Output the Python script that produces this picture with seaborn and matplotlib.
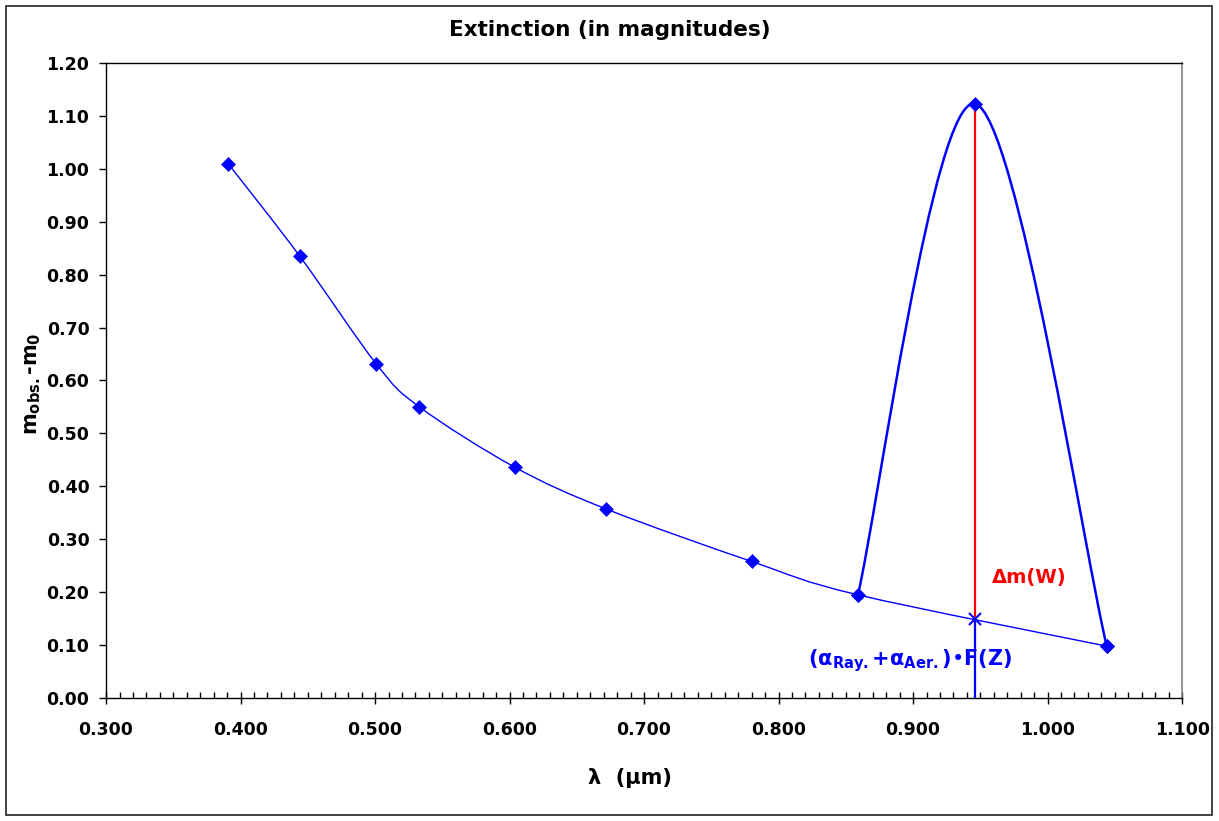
import numpy as np
import matplotlib
matplotlib.use('Agg')
import matplotlib.pyplot as plt
import matplotlib.ticker as mticker
from matplotlib.path import Path
from matplotlib.patches import PathPatch, Rectangle
import seaborn as sns
import pandas as pd

# measured extinction at each filter (µm, magnitudes)
wavelength = [0.391, 0.444, 0.501, 0.533, 0.604, 0.672, 0.780, 0.859, 1.044]
extinction = [1.009, 0.835, 0.631, 0.550, 0.436, 0.357, 0.258, 0.195, 0.098]

# water band filter curve
band_x = [0.859, 0.946, 1.044]
band_y = [0.195, 1.123, 0.098]

# water filter position, continuum level and observed value
w_x = 0.946
w_continuum = 0.149
w_peak = 1.123

x_ticks = [0.3, 0.4, 0.5, 0.6, 0.7, 0.8, 0.9, 1.0, 1.1]
y_ticks = [0.0, 0.1, 0.2, 0.3, 0.4, 0.5, 0.6, 0.7, 0.8, 0.9, 1.0, 1.1, 1.2]

BLUE = '#0000FF'
RED = '#FF0000'

sns.set_theme(style='white')
plt.rcParams['font.family'] = ['DejaVu Sans']
plt.rcParams['font.weight'] = 'bold'
plt.rcParams['mathtext.default'] = 'regular'
plt.rcParams['text.color'] = 'black'
plt.rcParams['xtick.color'] = 'black'
plt.rcParams['ytick.color'] = 'black'
plt.rcParams['axes.labelcolor'] = 'black'


def smooth_path(xs, ys):
    # excel-like smoothed line: catmull-rom segments as cubic beziers
    pts = np.column_stack([xs, ys])
    n = len(pts)
    verts = [pts[0]]
    codes = [Path.MOVETO]
    for i in range(n - 1):
        p0 = pts[max(i - 1, 0)]
        p1 = pts[i]
        p2 = pts[i + 1]
        p3 = pts[min(i + 2, n - 1)]
        verts += [p1 + (p2 - p0) / 6, p2 - (p3 - p1) / 6, p2]
        codes += [Path.CURVE4] * 3
    return Path(verts, codes)


fig = plt.figure(figsize=(12.19, 8.21), dpi=100)
ax = fig.add_axes([0.0870, 0.1498, 0.8827, 0.7735])

# smoothed curves
ax.add_patch(PathPatch(smooth_path(wavelength, extinction), facecolor='none',
                       edgecolor=BLUE, lw=1.0, zorder=2))
ax.add_patch(PathPatch(smooth_path(band_x, band_y), facecolor='none',
                       edgecolor=BLUE, lw=1.8, zorder=2))

# vertical lines at the water filter
ax.vlines(w_x, w_continuum, w_peak, color=RED, lw=1.6, zorder=3)
ax.vlines(w_x, 0, w_continuum, color=BLUE, lw=1.6, zorder=3)

# markers
pts = pd.DataFrame({'x': wavelength + band_x, 'y': extinction + band_y})
sns.scatterplot(data=pts, x='x', y='y', marker='D', s=50, color=BLUE,
                edgecolor=BLUE, linewidth=0.5, ax=ax, zorder=4)
ax.plot([w_x], [w_continuum], marker='x', ms=9, mew=1.5, color=BLUE, zorder=4)

# annotations
ax.text(0.9587, 0.227, 'Δm(W)', color=RED, fontsize=14, fontweight='bold',
        ha='left', va='center')
ax.text(0.822, 0.071, r'($\alpha_{Ray.}$+$\alpha_{Aer.}$)•F(Z)', color=BLUE,
        fontsize=15, fontweight='bold', ha='left', va='center')

# axes
ax.set_xlim(0.3, 1.1)
ax.set_ylim(0.0, 1.2)
ax.set_xticks(x_ticks)
ax.set_yticks(y_ticks)
ax.xaxis.set_minor_locator(mticker.MultipleLocator(0.01))
ax.xaxis.set_major_formatter(mticker.FormatStrFormatter('%.3f'))
ax.yaxis.set_major_formatter(mticker.FormatStrFormatter('%.2f'))
ax.tick_params(axis='x', which='major', direction='inout', length=9, width=1,
               color='black', labelcolor='black', labelsize=12.5, pad=12,
               bottom=True)
ax.tick_params(axis='x', which='minor', direction='in', length=4, width=1,
               color='black', bottom=True)
ax.tick_params(axis='y', which='major', direction='out', length=5, width=1,
               color='black', labelcolor='black', labelsize=12.5, pad=7,
               left=True)
for lab in ax.get_xticklabels() + ax.get_yticklabels():
    lab.set_fontweight('bold')

for side in ['left', 'bottom', 'top']:
    ax.spines[side].set_color('black')
    ax.spines[side].set_linewidth(1.0)
ax.spines['right'].set_color('#808080')
ax.spines['right'].set_linewidth(1.2)
ax.grid(False)
ax.set_xlabel('')
ax.set_ylabel('')

# labels and title
fig.text(0.517, 0.052, 'λ  (µm)', fontsize=15, fontweight='bold',
         ha='center', va='center', color='black')
fig.text(0.027, 0.532, r'$m_{obs.}$-$m_0$', fontsize=15, fontweight='bold',
         ha='center', va='center', rotation=90, color='black')
fig.text(0.5, 0.9635, 'Extinction (in magnitudes)', fontsize=15.5,
         fontweight='bold', ha='center', va='center', color='black')

# chart border
fig.patches.append(Rectangle((0.0049, 0.0073), 0.9893, 0.9854,
                             transform=fig.transFigure, fill=False,
                             edgecolor='#333333', lw=1.3))

fig.savefig('out.png', dpi=100)
